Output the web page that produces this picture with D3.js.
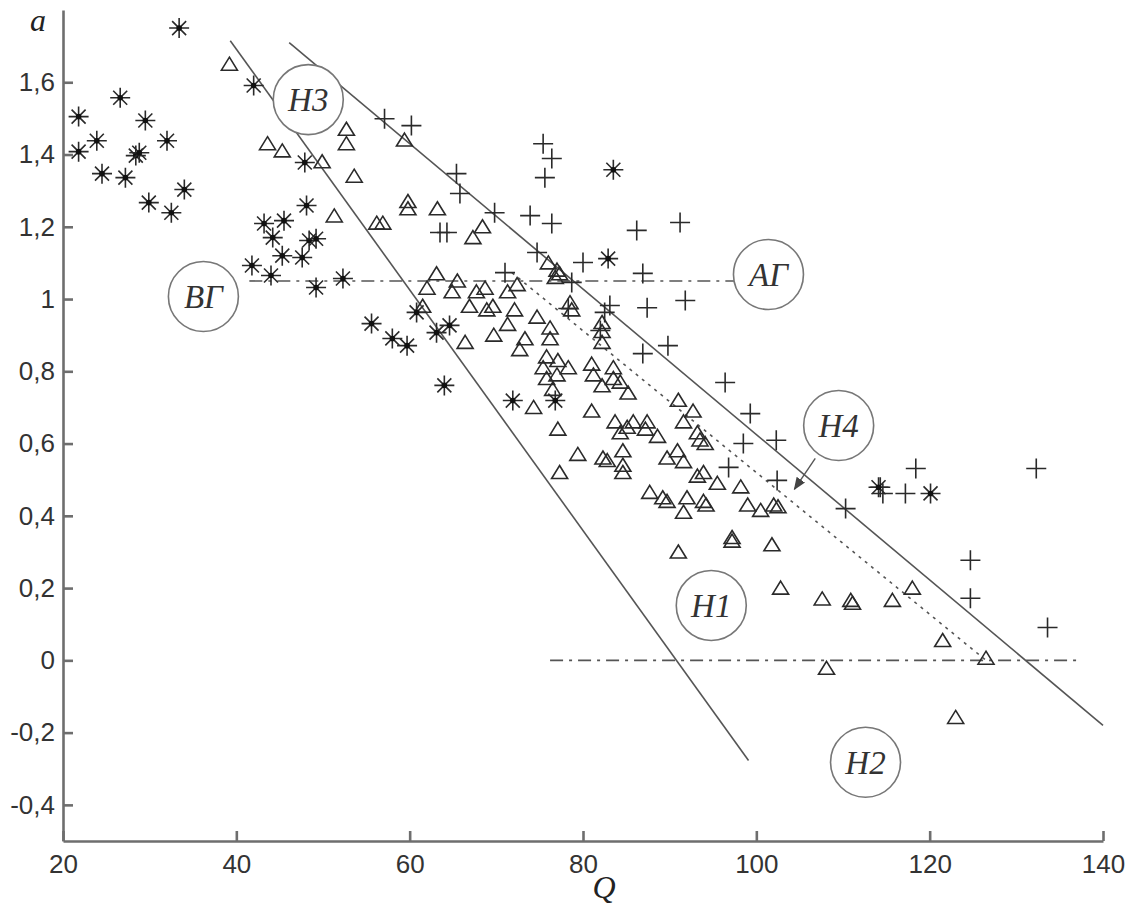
<!DOCTYPE html>
<meta charset="UTF-8">
<style>
body { margin: 0; background: #fff; }
.tick text { font: 26px "Liberation Sans", sans-serif; fill: #333; }
.axis path, .axis line { stroke: #6e6e6e; stroke-width: 2.6px; }
.ref { fill: none; stroke: #555; stroke-width: 1.6px; }
.mark { fill: none; stroke: #2a2a2a; stroke-width: 1.6px; }
.zone circle { fill: #fff; stroke: #777; stroke-width: 1.6px; }
.zone text { font: italic 33px "Liberation Serif", serif; fill: #333; }
</style>
<body>
<script src="https://cdnjs.cloudflare.com/ajax/libs/d3/7.8.5/d3.min.js"></script>
<script>
// observations, [Q, a]
const asterisks = [[33.4,1.75],[21.8,1.505],[21.8,1.408],[23.9,1.438],[24.5,1.347],[26.6,1.557],[27.2,1.336],
  [28.4,1.397],[28.8,1.405],[29.5,1.494],[29.9,1.267],[32.0,1.438],[32.5,1.239],[34.0,1.303],[42.0,1.591],
  [47.9,1.378],[48.1,1.259],[43.2,1.209],[45.5,1.217],[44.2,1.170],[48.4,1.162],[49.2,1.167],[45.3,1.120],
  [47.6,1.115],[41.8,1.093],[44.0,1.065],[49.2,1.032],[52.3,1.057],[55.6,0.932],[58.0,0.891],[59.7,0.871],
  [60.8,0.963],[63.1,0.907],[64.6,0.927],[64.0,0.761],[71.9,0.719],[76.8,0.719],[82.9,1.112],[83.5,1.358],
  [114.1,0.479],[120.1,0.462]];

const triangles = [[39.2,1.65],[43.6,1.43],[45.3,1.41],[49.9,1.38],[52.7,1.47],[52.7,1.43],[53.6,1.34],
  [51.3,1.23],[56.2,1.21],[56.9,1.21],[59.8,1.27],[59.8,1.25],[59.4,1.44],[63.2,1.25],[62.0,1.03],[61.5,0.98],
  [67.3,1.17],[68.4,1.20],[76.0,1.10],[77.3,1.07],[63.1,1.07],[64.9,1.02],[65.5,1.05],[67.7,1.02],[68.7,1.03],
  [66.9,0.98],[68.9,0.97],[69.6,0.98],[71.3,1.02],[72.4,1.04],[72.1,0.97],[71.3,0.93],[69.7,0.90],[66.4,0.88],
  [74.7,0.95],[76.2,0.92],[76.2,0.89],[77.0,1.08],[76.8,1.06],[78.5,0.99],[78.7,0.97],[73.3,0.89],[72.7,0.86],
  [75.8,0.84],[75.4,0.81],[77.1,0.83],[78.3,0.81],[75.8,0.78],[76.5,0.75],[77.0,0.79],[74.3,0.70],[81.0,0.82],
  [81.2,0.79],[82.2,0.76],[83.5,0.81],[84.3,0.77],[85.2,0.74],[81.0,0.69],[77.1,0.64],[79.4,0.57],[77.3,0.52],
  [82.3,0.56],[84.6,0.58],[84.6,0.54],[83.7,0.66],[85.8,0.66],[87.4,0.66],[87.2,0.64],[88.6,0.62],[90.9,0.58],
  [91.6,0.55],[89.7,0.56],[91.0,0.72],[92.7,0.69],[91.6,0.66],[93.2,0.63],[87.7,0.465],[89.2,0.45],[92.0,0.45],
  [93.2,0.51],[91.6,0.41],[82.2,0.935],[82.2,0.91],[82.2,0.88],[83.5,0.78],[94.1,0.60],[85.1,0.645],[84.3,0.63],
  [82.8,0.553],[84.6,0.52],[93.9,0.52],[93.5,0.61],[95.5,0.49],[89.7,0.44],[93.9,0.44],[98.2,0.48],[99.0,0.43],
  [100.5,0.415],[102.0,0.43],[102.5,0.425],[91.0,0.30],[97.2,0.34],[97.2,0.33],[101.8,0.32],[102.8,0.20],
  [107.6,0.17],[110.9,0.166],[111.1,0.158],[115.7,0.166],[118.0,0.20],[121.5,0.055],[126.5,0.006],
  [108.1,-0.022],[123.0,-0.158],[94.2,0.43]];

const pluses = [[57.1,1.499],[60.2,1.48],[65.4,1.347],[65.8,1.292],[69.8,1.239],[73.9,1.231],[76.4,1.209],
  [75.4,1.43],[76.4,1.389],[75.6,1.336],[86.2,1.19],[91.2,1.212],[74.7,1.129],[80.0,1.101],[86.9,1.071],
  [71.0,1.073],[63.5,1.184],[64.3,1.184],[83.1,0.982],[87.4,0.976],[91.8,0.996],[89.8,0.871],[86.9,0.849],
  [96.4,0.769],[99.3,0.683],[98.5,0.6],[102.3,0.609],[96.8,0.534],[102.4,0.498],[118.4,0.531],[132.3,0.531],
  [114.3,0.479],[114.6,0.462],[117.2,0.462],[110.3,0.42],[124.7,0.277],[124.7,0.172],[133.6,0.091],
  [78.7,1.046],[82.5,0.963],[82.0,0.913],[78.3,0.974]];

// boundary lines
const boundLeft = [[39.3,1.715],[99.1,-0.277]];
const boundRight = [[46.1,1.71],[140,-0.18]];
const boundDotted = [[71.8,1.073],[126.5,0.0]];
const levelUpper = [[41.5,1.05],[101,1.05]];
const levelZero = [[76.2,0],[137.3,0]];

// zone labels
const zones = [
  {name: "Н3", q: 48.3, a: 1.552},
  {name: "ВГ", q: 36.2, a: 1.007},
  {name: "АГ", q: 101.4, a: 1.068},
  {name: "Н4", q: 109.5, a: 0.650},
  {name: "Н1", q: 94.8, a: 0.152},
  {name: "Н2", q: 112.6, a: -0.282}
];
const arrowH4 = [[106.8,0.559],[104.4,0.474]];

const xTicks = [20, 40, 60, 80, 100, 120, 140];
const yTicks = [-0.4, -0.2, 0, 0.2, 0.4, 0.6, 0.8, 1, 1.2, 1.4, 1.6];

const W = 1128, H = 907;
const svg = d3.select("body").append("svg").attr("width", W).attr("height", H);

const x = d3.scaleLinear().domain([20, 140]).range([63, 1103]);
const y = d3.scaleLinear().domain([-0.5, 1.8]).range([841, 10]);

const fmt = d => String(+d.toFixed(1)).replace(".", ",");

svg.append("defs").append("marker")
    .attr("id", "arr").attr("viewBox", "0 0 10 10").attr("refX", 9).attr("refY", 5)
    .attr("markerWidth", 9).attr("markerHeight", 9).attr("orient", "auto")
  .append("path").attr("d", "M0,1L10,5L0,9Z").attr("fill", "#444");

// reference lines
const line = d3.line().x(d => x(d[0])).y(d => y(d[1]));
svg.append("path").attr("class", "ref").attr("d", line(boundLeft));
svg.append("path").attr("class", "ref").attr("d", line(boundRight));
svg.append("path").attr("class", "ref").attr("d", line(boundDotted))
    .attr("stroke-dasharray", "3,5").attr("stroke", "#666");
[levelUpper, levelZero].forEach(l => {
  svg.append("path").attr("class", "ref").attr("d", line(l))
      .attr("stroke", "#888").attr("stroke-width", 2.6).attr("stroke-dasharray", "13,6,3,6");
});

// markers
svg.append("g").selectAll("path").data(triangles).join("path")
    .attr("class", "mark")
    .attr("transform", d => `translate(${x(d[0])},${y(d[1])})`)
    .attr("d", "M0,-7L8,6L-8,6Z");

svg.append("g").selectAll("path").data(pluses).join("path")
    .attr("class", "mark")
    .attr("transform", d => `translate(${x(d[0])},${y(d[1])})`)
    .attr("d", "M-10,0H10M0,-10V10");

const star = svg.append("g").selectAll("g").data(asterisks).join("g")
    .attr("transform", d => `translate(${x(d[0])},${y(d[1])})`);
star.append("path").attr("class", "mark").attr("stroke", "#444")
    .attr("d", "M-10,0H10M0,-10V10M-7,-7L7,7M-7,7L7,-7");
star.append("circle").attr("r", 2.8).attr("fill", "#111");

// axes
svg.append("g").attr("class", "axis")
    .attr("transform", `translate(0,${y(-0.5)})`)
    .call(d3.axisBottom(x).tickValues(xTicks).tickSizeInner(-10).tickSizeOuter(0).tickPadding(14));
svg.append("g").attr("class", "axis")
    .attr("transform", `translate(${x(20)},0)`)
    .call(d3.axisLeft(y).tickValues(yTicks).tickSizeInner(-10).tickSizeOuter(0).tickPadding(8).tickFormat(fmt));

// axis titles
svg.append("text").attr("x", 38).attr("y", 31).attr("text-anchor", "middle")
    .style("font", "italic 32px 'Liberation Serif', serif").attr("fill", "#222").text("a");
svg.append("text").attr("x", 604).attr("y", 898).attr("text-anchor", "middle")
    .style("font", "italic 32px 'Liberation Serif', serif").attr("fill", "#222").text("Q");

// zone circles
svg.append("path").attr("d", line(arrowH4)).attr("stroke", "#555").attr("stroke-width", 1.4)
    .attr("fill", "none").attr("marker-end", "url(#arr)");
const zone = svg.append("g").selectAll("g").data(zones).join("g").attr("class", "zone")
    .attr("transform", d => `translate(${x(d.q)},${y(d.a)})`);
zone.append("circle").attr("r", 35);
zone.append("text").attr("text-anchor", "middle").attr("dy", "0.35em").text(d => d.name);
</script>
</body>
